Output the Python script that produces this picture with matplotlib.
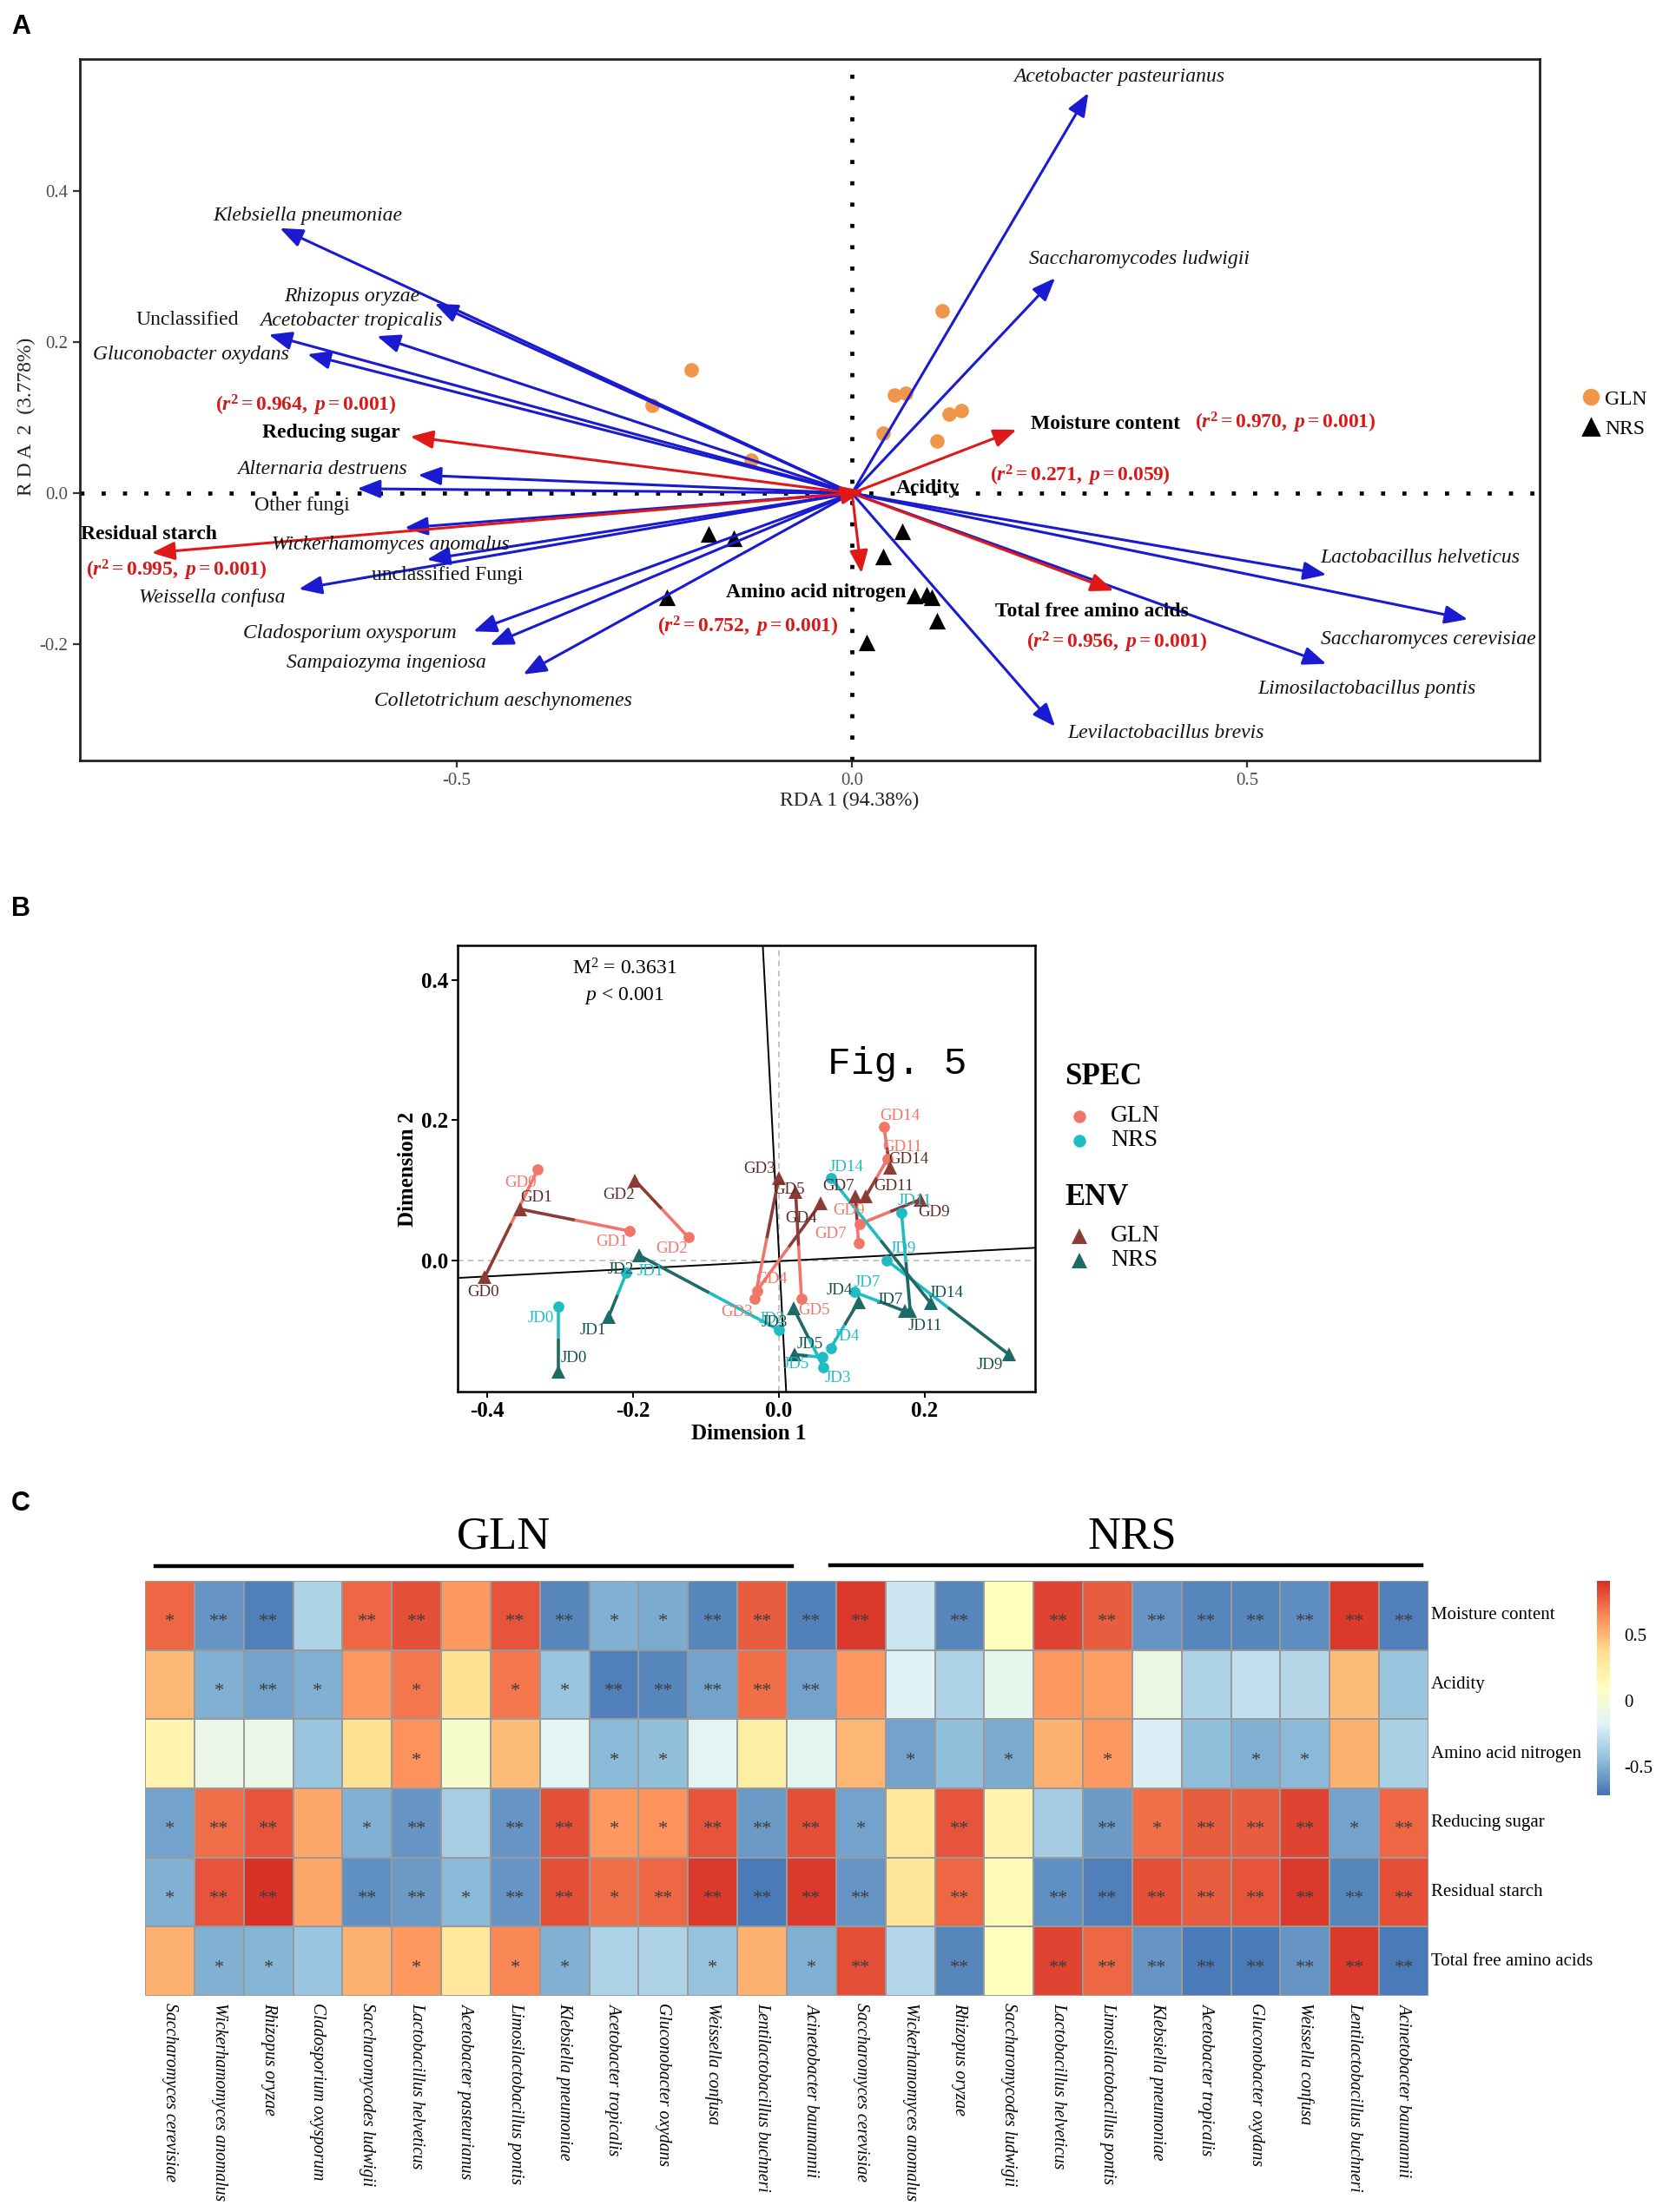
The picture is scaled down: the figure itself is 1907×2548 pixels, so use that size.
import numpy as np
import matplotlib
matplotlib.use("Agg")
import matplotlib.pyplot as plt
from matplotlib.colors import LinearSegmentedColormap, Normalize
from matplotlib.lines import Line2D

plt.rcParams["font.family"] = ["Liberation Serif", "DejaVu Serif"]
plt.rcParams["mathtext.fontset"] = "custom"
plt.rcParams["mathtext.rm"] = "Liberation Serif"
plt.rcParams["mathtext.it"] = "Liberation Serif:italic"
plt.rcParams["mathtext.bf"] = "Liberation Serif:bold"
plt.rcParams["mathtext.bfit"] = "Liberation Serif:italic:bold"
plt.rcParams["axes.unicode_minus"] = False

# ================= Panel A data (RDA) =================
rda_species = ["Acetobacter pasteurianus", "Saccharomycodes ludwigii", "Klebsiella pneumoniae",
               "Rhizopus oryzae", "Acetobacter tropicalis", "Unclassified", "Gluconobacter oxydans",
               "Alternaria destruens", "Other fungi", "Wickerhamomyces anomalus", "unclassified Fungi",
               "Weissella confusa", "Cladosporium oxysporum", "Sampaiozyma ingeniosa",
               "Colletotrichum aeschynomenes", "Lactobacillus helveticus", "Saccharomyces cerevisiae",
               "Limosilactobacillus pontis", "Levilactobacillus brevis"]
rda_sp_x = [0.299, 0.257, -0.724, -0.528, -0.601, -0.738, -0.689, -0.549, -0.626, -0.566, -0.538,
            -0.700, -0.479, -0.458, -0.416, 0.600, 0.779, 0.600, 0.257]
rda_sp_y = [0.530, 0.285, 0.351, 0.251, 0.208, 0.210, 0.184, 0.024, 0.006, -0.046, -0.088,
            -0.127, -0.183, -0.201, -0.240, -0.108, -0.167, -0.226, -0.309]
non_italic = ["Unclassified", "Other fungi", "unclassified Fungi"]

rda_env = ["Moisture content", "Acidity", "Amino acid nitrogen", "Total free amino acids",
           "Reducing sugar", "Residual starch"]
rda_env_x = [0.208, 0.015, 0.012, 0.331, -0.559, -0.886]
rda_env_y = [0.084, 0.003, -0.106, -0.129, 0.075, -0.079]
env_r2 = ["0.970", "0.271", "0.752", "0.956", "0.964", "0.995"]
env_p = ["0.001", "0.059", "0.001", "0.001", "0.001", "0.001"]

gln_rda_x = [-0.203, -0.253, -0.128, 0.114, 0.054, 0.068, 0.123, 0.138, 0.039, 0.108]
gln_rda_y = [0.163, 0.116, 0.044, 0.242, 0.130, 0.132, 0.105, 0.109, 0.080, 0.069]
nrs_rda_x = [-0.181, -0.150, -0.234, 0.018, 0.063, 0.039, 0.079, 0.094, 0.101, 0.107]
nrs_rda_y = [-0.054, -0.060, -0.138, -0.198, -0.050, -0.084, -0.136, -0.134, -0.138, -0.169]

# label layout (data coordinates of text centres)
sp_label_pos = [(0.338, 0.552), (0.363, 0.310), (-0.689, 0.368), (-0.633, 0.260), (-0.633, 0.228),
                (-0.841, 0.230), (-0.836, 0.183), (-0.670, 0.032), (-0.696, -0.016), (-0.584, -0.068),
                (-0.512, -0.109), (-0.810, -0.138), (-0.635, -0.186), (-0.589, -0.225),
                (-0.441, -0.275), (0.719, -0.086), (0.729, -0.194), (0.651, -0.259), (0.397, -0.318)]
env_label_pos = [(0.321, 0.092), (0.096, 0.007), (-0.045, -0.131), (0.303, -0.157),
                 (-0.659, 0.080), (-0.890, -0.055)]
env_stat_pos = [(0.548, 0.093), (0.289, 0.023), (-0.132, -0.177), (0.335, -0.198),
                (-0.691, 0.116), (-0.855, -0.102)]

# ================= Panel B data (Procrustes) =================
days = [0, 1, 2, 3, 4, 5, 7, 9, 11, 14]
gln_spec_x = [-0.330, -0.205, -0.124, -0.033, -0.030, 0.031, 0.109, 0.111, 0.149, 0.144]
gln_spec_y = [0.130, 0.042, 0.033, -0.055, -0.043, -0.055, 0.025, 0.052, 0.145, 0.190]
gln_env_x = [-0.403, -0.354, -0.197, 0.000, 0.057, 0.023, 0.105, 0.194, 0.119, 0.152]
gln_env_y = [-0.024, 0.073, 0.114, 0.118, 0.081, 0.097, 0.091, 0.087, 0.091, 0.132]
nrs_spec_x = [-0.302, -0.209, 0.000, 0.061, 0.071, 0.059, 0.103, 0.148, 0.168, 0.071]
nrs_spec_y = [-0.066, -0.018, -0.099, -0.152, -0.125, -0.138, -0.045, 0.000, 0.068, 0.118]
nrs_env_x = [-0.302, -0.233, -0.191, 0.020, 0.109, 0.021, 0.172, 0.315, 0.180, 0.208]
nrs_env_y = [-0.158, -0.080, 0.007, -0.068, -0.059, -0.134, -0.072, -0.134, -0.072, -0.061]
rot_axis1_x = [-0.440, 0.351]
rot_axis1_y = [-0.025, 0.018]
rot_axis2_x = [-0.022, 0.010]
rot_axis2_y = [0.449, -0.187]
m2_value = "0.3631"

# label offsets in pixels (right, down)
gln_spec_off = [(-20, 16), (-20, 13), (-19, 13), (-21, 15), (17, -13), (15, 13), (-32, -10),
                (-13, -15), (17, -13), (18, -13)]
gln_env_off = [(-2, 17), (18, -13), (-19, 17), (-22, -10), (-22, 17), (-8, -3), (-20, -12),
               (15, 15), (32, -12), (22, -10)]
nrs_spec_off = [(-20, 13), (28, -2), (-8, -12), (17, 13), (18, -13), (-30, 8), (15, -11),
                (18, -13), (15, -13), (18, -12)]
nrs_env_off = [(18, -15), (-18, 16), (-22, 16), (-22, 17), (-22, -13), (18, -12), (-17, -13),
               (-22, 12), (17, 17), (18, -12)]

# ================= Panel C data (correlation heatmap) =================
gln_taxa = ["Saccharomyces cerevisiae", "Wickerhamomyces anomalus", "Rhizopus oryzae",
            "Cladosporium oxysporum", "Saccharomycodes ludwigii", "Lactobacillus helveticus",
            "Acetobacter pasteurianus", "Limosilactobacillus pontis", "Klebsiella pneumoniae",
            "Acetobacter tropicalis", "Gluconobacter oxydans", "Weissella confusa",
            "Lentilactobacillus buchneri", "Acinetobacter baumannii"]
nrs_taxa = ["Saccharomyces cerevisiae", "Wickerhamomyces anomalus", "Rhizopus oryzae",
            "Saccharomycodes ludwigii", "Lactobacillus helveticus", "Limosilactobacillus pontis",
            "Klebsiella pneumoniae", "Acetobacter tropicalis", "Gluconobacter oxydans",
            "Weissella confusa", "Lentilactobacillus buchneri", "Acinetobacter baumannii"]
heat_rows = ["Moisture content", "Acidity", "Amino acid nitrogen", "Reducing sugar",
             "Residual starch", "Total free amino acids"]
gln_corr = [
    [0.75, -0.60, -0.68, -0.35, 0.75, 0.82, 0.60, 0.80, -0.65, -0.50, -0.52, -0.65, 0.78, -0.67],
    [0.50, -0.50, -0.55, -0.50, 0.60, 0.70, 0.35, 0.70, -0.42, -0.68, -0.65, -0.55, 0.72, -0.55],
    [0.20, -0.10, -0.10, -0.42, 0.35, 0.62, 0.03, 0.48, -0.15, -0.47, -0.45, -0.15, 0.25, -0.14],
    [-0.55, 0.72, 0.80, 0.55, -0.50, -0.60, -0.37, -0.60, 0.82, 0.60, 0.62, 0.80, -0.58, 0.82],
    [-0.50, 0.80, 0.90, 0.55, -0.62, -0.58, -0.47, -0.60, 0.82, 0.72, 0.75, 0.88, -0.70, 0.88],
    [0.52, -0.50, -0.48, -0.42, 0.52, 0.60, 0.30, 0.65, -0.50, -0.35, -0.35, -0.43, 0.52, -0.50],
]
nrs_corr = [
    [0.88, -0.25, -0.65, 0.10, 0.85, 0.78, -0.60, -0.65, -0.65, -0.63, 0.88, -0.68],
    [0.60, -0.18, -0.35, -0.12, 0.60, 0.58, -0.08, -0.35, -0.28, -0.32, 0.48, -0.42],
    [0.50, -0.55, -0.45, -0.52, 0.52, 0.60, -0.20, -0.45, -0.50, -0.47, 0.52, -0.36],
    [-0.55, 0.30, 0.80, 0.20, -0.38, -0.58, 0.72, 0.78, 0.78, 0.85, -0.55, 0.75],
    [-0.60, 0.32, 0.75, 0.15, -0.62, -0.68, 0.82, 0.78, 0.80, 0.88, -0.65, 0.82],
    [0.82, -0.33, -0.65, 0.10, 0.85, 0.75, -0.60, -0.70, -0.70, -0.60, 0.88, -0.70],
]
gln_sig = [
    ["*", "**", "**", "", "**", "**", "", "**", "**", "*", "*", "**", "**", "**"],
    ["", "*", "**", "*", "", "*", "", "*", "*", "**", "**", "**", "**", "**"],
    ["", "", "", "", "", "*", "", "", "", "*", "*", "", "", ""],
    ["*", "**", "**", "", "*", "**", "", "**", "**", "*", "*", "**", "**", "**"],
    ["*", "**", "**", "", "**", "**", "*", "**", "**", "*", "**", "**", "**", "**"],
    ["", "*", "*", "", "", "*", "", "*", "*", "", "", "*", "", "*"],
]
nrs_sig = [
    ["**", "", "**", "", "**", "**", "**", "**", "**", "**", "**", "**"],
    ["", "", "", "", "", "", "", "", "", "", "", ""],
    ["", "*", "", "*", "", "*", "", "", "*", "*", "", ""],
    ["*", "", "**", "", "", "**", "*", "**", "**", "**", "*", "**"],
    ["**", "", "**", "", "**", "**", "**", "**", "**", "**", "**", "**"],
    ["**", "", "**", "", "**", "**", "**", "**", "**", "**", "**", "**"],
]
cbar_ticks = [-0.5, 0, 0.5]

# ================= Figure =================
W, H = 1908, 2548
DPI = 200
SERIF = ["Liberation Serif", "DejaVu Serif"]
fig = plt.figure(figsize=(W / DPI, H / DPI), dpi=DPI)


def fx(px):
    return px / W


def fy(py):
    return 1 - py / H


def box(l, t, r, b):
    return [fx(l), fy(b), fx(r) - fx(l), fy(t) - fy(b)]


# panel letters
for letter, (lx, ly) in zip("ABC", [(24, 31), (24, 1047), (24, 1732)]):
    fig.text(fx(lx), fy(ly), letter, family="Liberation Sans", weight="bold", fontsize=11,
             ha="center", va="center")

# ---------------- Panel A ----------------
blue = "#1a1ad0"
red = "#e01818"
orange = "#f0964a"
axA = fig.add_axes(box(92, 68, 1773, 876))
axA.set_xlim(-0.977, 0.870)
axA.set_ylim(-0.354, 0.575)
axA.axhline(0, color="black", ls=(0, (1, 4.2)), lw=1.7, zorder=1)
axA.axvline(0, color="black", ls=(0, (1, 4.2)), lw=1.7, zorder=1)
axA.scatter(gln_rda_x, gln_rda_y, s=36, color=orange, zorder=2, linewidths=0)
axA.scatter(nrs_rda_x, nrs_rda_y, s=48, color="black", marker="^", zorder=2, linewidths=0)
astyle = "-|>,head_length=0.8,head_width=0.32"
for x, y in zip(rda_sp_x, rda_sp_y):
    axA.annotate("", xy=(x, y), xytext=(0, 0),
                 arrowprops=dict(arrowstyle=astyle, color=blue, lw=1.1, shrinkA=0, shrinkB=0,
                                 mutation_scale=10), zorder=3)
for x, y in zip(rda_env_x, rda_env_y):
    axA.annotate("", xy=(x, y), xytext=(0, 0),
                 arrowprops=dict(arrowstyle=astyle, color=red, lw=1.1, shrinkA=0, shrinkB=0,
                                 mutation_scale=10), zorder=3)
for name, (tx, ty) in zip(rda_species, sp_label_pos):
    axA.text(tx, ty, name, fontsize=8.5, style=("normal" if name in non_italic else "italic"),
             ha="center", va="center", color="#111111", zorder=4)
for name, (tx, ty), (sx, sy), r2, p in zip(rda_env, env_label_pos, env_stat_pos, env_r2, env_p):
    axA.text(tx, ty, name, fontsize=8.5, weight="bold", ha="center", va="center", zorder=4)
    stat = (r"$\mathbf{(}\mathbfit{r}^{\mathbf{2}}\mathbf{=" + r2 + r",}\ \mathbfit{p}\mathbf{="
            + p + r")}$")
    axA.text(sx, sy, stat, fontsize=8.5, color="#d61a1a", ha="center", va="center", zorder=4)
axA.set_xticks([-0.5, 0.0, 0.5])
axA.set_yticks([-0.2, 0.0, 0.2, 0.4])
axA.set_xticklabels(["-0.5", "0.0", "0.5"], family=SERIF)
axA.set_yticklabels(["-0.2", "0.0", "0.2", "0.4"], family=SERIF)
axA.tick_params(direction="out", length=3, width=0.8, color="#333333", labelcolor="#4d4d4d",
                labelsize=7.5, pad=2)
for s in axA.spines.values():
    s.set_linewidth(1.0)
    s.set_color("#222222")
fig.text(fx(978), fy(922), "RDA 1 (94.38%)", fontsize=8.5, ha="center", va="center",
         color="#222222")
fig.text(fx(30), fy(480), "R D A  2  (3.778%)", fontsize=8.5, ha="center", va="center",
         rotation=90, color="#222222")
legA = fig.legend(handles=[Line2D([], [], marker="o", ls="", color=orange, ms=6),
                           Line2D([], [], marker="^", ls="", color="black", ms=6.5)],
                  labels=["GLN", "NRS"], loc="center left",
                  bbox_to_anchor=(fx(1808), fy(477)), frameon=False, fontsize=8.5,
                  handletextpad=0.1, labelspacing=0.55, borderaxespad=0, handlelength=1.2)

# ---------------- Panel B ----------------
c_gln_spec = "#f0766a"
c_nrs_spec = "#20bcc4"
c_gln_env = "#8c3b35"
c_nrs_env = "#1d6b67"
c_gln_envtxt = "#5a2a26"
c_nrs_envtxt = "#15504c"
axB = fig.add_axes(box(527, 1089, 1192, 1603))
axB.set_xlim(-0.440, 0.351)
axB.set_ylim(-0.187, 0.449)
axB.axhline(0, color="#bbbbbb", ls=(0, (4, 3)), lw=0.6, zorder=0)
axB.axvline(0, color="#bbbbbb", ls=(0, (4, 3)), lw=0.6, zorder=0)
axB.plot(rot_axis1_x, rot_axis1_y, color="black", lw=0.7, zorder=1)
axB.plot(rot_axis2_x, rot_axis2_y, color="black", lw=0.7, zorder=1)

groups = [
    (gln_spec_x, gln_spec_y, gln_env_x, gln_env_y, c_gln_spec, c_gln_env, c_gln_envtxt, "GD",
     gln_spec_off, gln_env_off),
    (nrs_spec_x, nrs_spec_y, nrs_env_x, nrs_env_y, c_nrs_spec, c_nrs_env, c_nrs_envtxt, "JD",
     nrs_spec_off, nrs_env_off),
]
for sx, sy, ex, ey, cs, ce, cet, pre, soff, eoff in groups:
    sx, sy, ex, ey = map(np.asarray, (sx, sy, ex, ey))
    mx, my = (sx + ex) / 2, (sy + ey) / 2
    for i in range(len(sx)):
        axB.plot([sx[i], mx[i]], [sy[i], my[i]], color=cs, lw=1.3, zorder=2,
                 solid_capstyle="butt")
        axB.plot([mx[i], ex[i]], [my[i], ey[i]], color=ce, lw=1.3, zorder=2,
                 solid_capstyle="butt")
    axB.plot(sx, sy, "o", color=cs, ms=4.6, zorder=3, mew=0)
    axB.plot(ex, ey, "^", color=ce, ms=5.8, zorder=3, mew=0)
    for i, d in enumerate(days):
        axB.annotate(f"{pre}{d}", xy=(sx[i], sy[i]), xytext=(soff[i][0], -soff[i][1]),
                     textcoords="offset pixels", fontsize=6.8, color=cs, ha="center",
                     va="center", zorder=4)
        axB.annotate(f"{pre}{d}", xy=(ex[i], ey[i]), xytext=(eoff[i][0], -eoff[i][1]),
                     textcoords="offset pixels", fontsize=6.8, color=cet, ha="center",
                     va="center", zorder=4)
axB.set_xticks([-0.4, -0.2, 0.0, 0.2])
axB.set_yticks([0.0, 0.2, 0.4])
axB.set_xticklabels(["-0.4", "-0.2", "0.0", "0.2"], family=SERIF, weight="bold")
axB.set_yticklabels(["0.0", "0.2", "0.4"], family=SERIF, weight="bold")
axB.tick_params(direction="out", length=2.5, width=0.7, labelsize=9, pad=1.5)
for s in axB.spines.values():
    s.set_linewidth(0.9)
fig.text(fx(719), fy(1116), r"M$^2$ = " + m2_value, fontsize=8.5, ha="center", va="center")
fig.text(fx(719), fy(1147), r"$p$ < 0.001", fontsize=8.5, ha="center", va="center")
fig.text(fx(1033), fy(1226), "Fig. 5", family="Liberation Mono", fontsize=16, ha="center",
         va="center")
fig.text(fx(862), fy(1652), "Dimension 1", fontsize=9, weight="bold", ha="center", va="center")
fig.text(fx(470), fy(1347), "Dimension 2", fontsize=9, weight="bold", ha="center", va="center",
         rotation=90)
# legend B
fig.text(fx(1226), fy(1240), "SPEC", fontsize=12.5, weight="bold", ha="left", va="center")
fig.text(fx(1226), fy(1380), "ENV", fontsize=12.5, weight="bold", ha="left", va="center")
legx = fx(1243)
for yy, mk, col, lab in [(1286, "o", c_gln_spec, "GLN"), (1314, "o", c_nrs_spec, "NRS"),
                         (1424, "^", c_gln_env, "GLN"), (1452, "^", c_nrs_env, "NRS")]:
    fig.add_artist(Line2D([legx], [fy(yy)], marker=mk, ls="", color=col,
                          ms=(5.2 if mk == "o" else 6.5), mew=0, transform=fig.transFigure))
    fig.text(fx(1279), fy(yy), lab, fontsize=10, ha="left", va="center")

# ---------------- Panel C ----------------
heat = np.hstack([np.array(gln_corr), np.array(nrs_corr)])
sig = [g + n for g, n in zip(gln_sig, nrs_sig)]
taxa = gln_taxa + nrs_taxa
cmap = LinearSegmentedColormap.from_list(
    "rdylbu7", ["#4575B4", "#91BFDB", "#E0F3F8", "#FFFFBF", "#FEE090", "#FC8D59", "#D73027"])
norm = Normalize(vmin=-0.72, vmax=0.91)
axC = fig.add_axes(box(167, 1821, 1645, 2299))
ncol, nrow = heat.shape[1], heat.shape[0]
mesh = axC.pcolormesh(np.arange(ncol + 1), np.arange(nrow + 1), heat, cmap=cmap, norm=norm,
                      edgecolors="#9a9a9a", linewidth=0.6)
axC.set_xlim(0, ncol)
axC.set_ylim(nrow, 0)
axC.axis("off")
for r in range(nrow):
    for c in range(ncol):
        if sig[r][c]:
            axC.text(c + 0.5, r + 0.6, sig[r][c], ha="center", va="center", fontsize=8,
                     color="#3c3c3c")
for r, name in enumerate(heat_rows):
    axC.text(ncol + 0.05, r + 0.5, name, ha="left", va="center", fontsize=7.5)
for c, name in enumerate(taxa):
    axC.text(c + 0.5, nrow + 0.1, name, ha="center", va="top", rotation=270, fontsize=7.1,
             style="italic")
# group bars
fig.add_artist(Line2D([fx(179), fx(912)], [fy(1804), fy(1804)], color="black", lw=1.6,
                      transform=fig.transFigure))
fig.add_artist(Line2D([fx(956), fx(1637)], [fy(1803), fy(1803)], color="black", lw=1.6,
                      transform=fig.transFigure))
fig.text(fx(580), fy(1770), "GLN", fontsize=19, ha="center", va="center")
fig.text(fx(1304), fy(1770), "NRS", fontsize=19, ha="center", va="center")
cax = fig.add_axes(box(1839, 1821, 1854, 2068))
cb = fig.colorbar(mesh, cax=cax, ticks=cbar_ticks)
cb.outline.set_visible(False)
cb.ax.set_yticklabels(["-0.5", "0", "0.5"], family=SERIF)
cb.ax.tick_params(length=0, labelsize=7.5, pad=6)

fig.savefig("out.png", dpi=DPI)
